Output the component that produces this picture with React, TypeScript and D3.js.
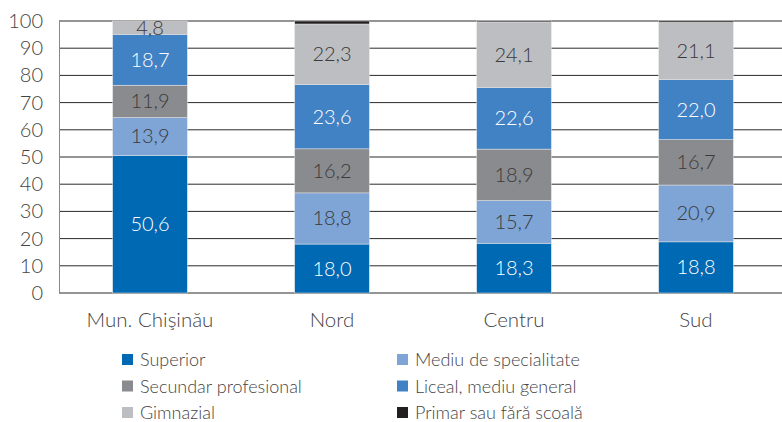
import React from "react";
import * as d3 from "d3";

const categories = ["Mun. Chişinău", "Nord", "Centru", "Sud"];
const seriesNames = [
  "Superior",
  "Mediu de specialitate",
  "Secundar profesional",
  "Liceal, mediu general",
  "Gimnazial",
  "Primar sau fără scoală",
];
const superior = [50.6, 18.0, 18.3, 18.8];
const mediuSpec = [13.9, 18.8, 15.7, 20.9];
const secundar = [11.9, 16.2, 18.9, 16.7];
const liceal = [18.7, 23.6, 22.6, 22.0];
const gimnazial = [4.8, 22.3, 24.1, 21.1];
const primar = [0.1, 1.1, 0.4, 0.5];
const yTicks = [0, 10, 20, 30, 40, 50, 60, 70, 80, 90, 100];

const colors = ["#0069b4", "#7ea5d6", "#8a8b8e", "#4182c5", "#bdbec1", "#231f20"];
const labelColors = ["#ffffff", "#3a3a3a", "#3a3a3a", "#ffffff", "#3a3a3a", "#3a3a3a"];

const seriesValues = [superior, mediuSpec, secundar, liceal, gimnazial, primar];

export default function App() {
  const W = 782, H = 422;
  const x = d3.scaleBand<string>().domain(categories).range([59, 787]).paddingInner(0.59).paddingOuter(0.295);
  const y = d3.scaleLinear().domain([0, 100]).range([293, 21]);

  const rows = categories.map((c, i) => {
    const r: any = { cat: c };
    seriesNames.forEach((s, j) => (r[s] = seriesValues[j][i]));
    return r;
  });
  const stacked = d3.stack<any>().keys(seriesNames)(rows);
  const font = "Lato, 'Open Sans', sans-serif";

  return (
    <svg width={W} height={H} style={{ display: "block", position: "absolute", left: 0, top: 0 }} fontFamily={font} fontWeight={300}>
      {yTicks.map((t) => (
        <g key={t}>
          <line x1={59} x2={W} y1={y(t)} y2={y(t)} stroke="#2a2a2a" strokeWidth={1} />
          <text x={43} y={y(t)} dy="0.35em" textAnchor="end" fontSize={20} fill="#444">{t}</text>
        </g>
      ))}
      <line x1={59.5} x2={59.5} y1={y(100)} y2={y(0)} stroke="#888" strokeWidth={1} />
      {stacked.map((layer, j) => (
        <g key={layer.key}>
          {layer.map((d, i) => (
            <rect key={i} x={x(categories[i])} width={x.bandwidth()} y={y(d[1])} height={Math.max(0, y(d[0]) - y(d[1]))} fill={colors[j]} stroke="#e6e6e6" strokeWidth={0.5} />
          ))}
        </g>
      ))}
      {stacked.map((layer, j) => (
        <g key={"l" + layer.key}>
          {layer.map((d, i) => {
            const v = seriesValues[j][i];
            if (v < 3) return null;
            return (
              <text key={i} x={(x(categories[i]) as number) + x.bandwidth() / 2} y={y((d[0] + d[1]) / 2)} dy="0.35em" textAnchor="middle" fontSize={20} fill={labelColors[j]}>
                {v.toFixed(1).replace(".", ",")}
              </text>
            );
          })}
        </g>
      ))}
      {categories.map((c) => (
        <text key={c} x={(x(c) as number) + x.bandwidth() / 2} y={327} textAnchor="middle" fontSize={20.5} fill="#444">{c}</text>
      ))}
      {seriesNames.map((s, j) => {
        const col = j % 2, row = Math.floor(j / 2);
        const lx = col === 0 ? 122 : 397;
        const ly = 360 + row * 26.5;
        return (
          <g key={s}>
            <rect x={lx} y={ly - 6} width={11} height={11} fill={colors[j]} />
            <text x={lx + 18} y={ly} dy="0.35em" fontSize={18} fill="#444">{s}</text>
          </g>
        );
      })}
    </svg>
  );
}
